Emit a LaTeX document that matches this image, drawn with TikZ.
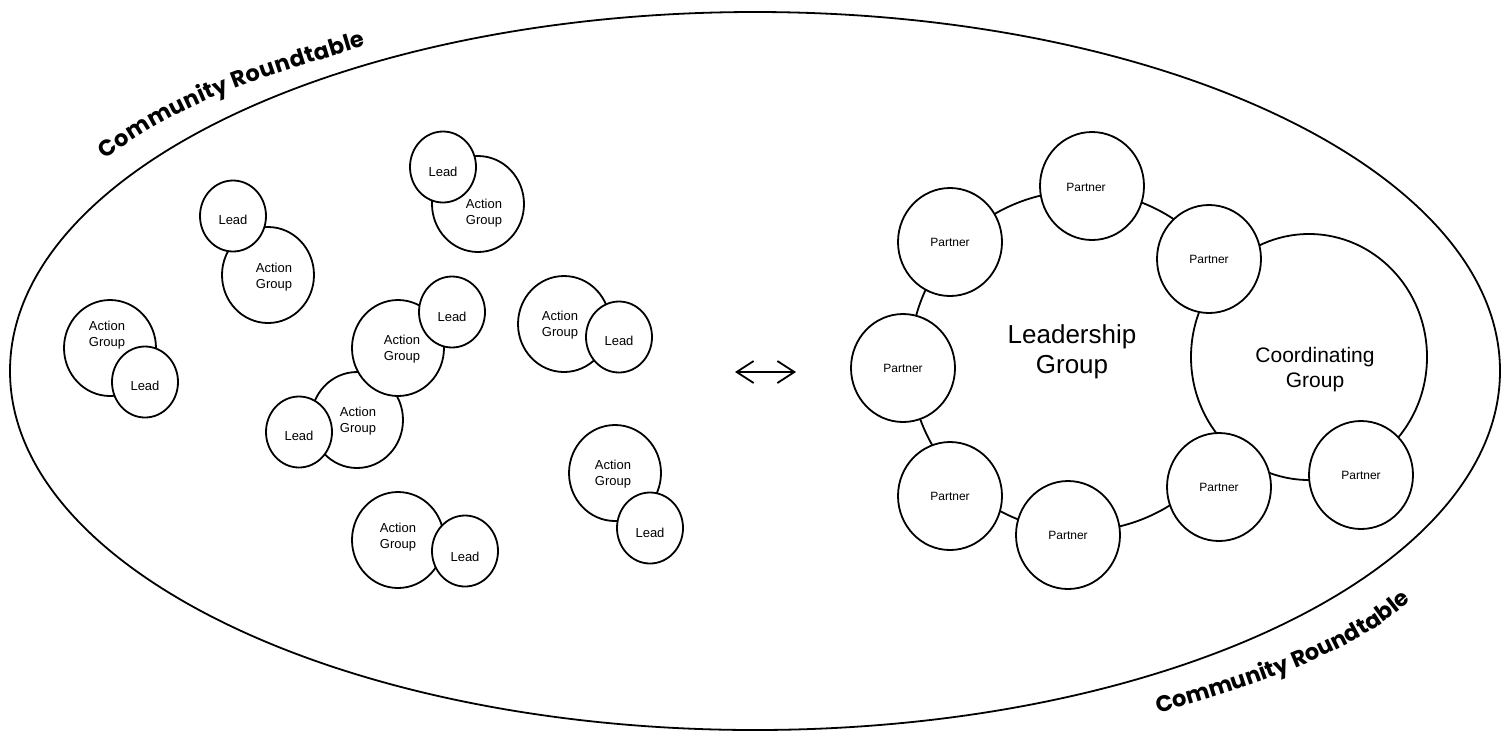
\documentclass[tikz,border=0pt]{standalone}
\usepackage{fontspec}
\setmainfont{Liberation Sans}
\newfontfamily\crfont{Poppins}
\usetikzlibrary{shapes.geometric,decorations.text,arrows.meta}
\tikzset{
  bub/.style={ellipse, draw, fill=white, line width=1.8pt, inner sep=0pt},
  agbub/.style={bub, minimum width=92pt, minimum height=96pt},
  leadbub/.style={bub, minimum width=66pt, minimum height=71pt},
  partner/.style={bub, minimum width=104pt, minimum height=108pt, font=\fontsize{12}{14}\selectfont},
  smalltxt/.style={font=\fontsize{13}{15.5}\selectfont, align=center, inner sep=0pt},
  crtext/.style={decorate, decoration={text along path, text align={fit to path},
     text={|\crfont\bfseries\fontsize{22.5}{26}\selectfont|Community Roundtable}}}
}
\begin{document}
\begin{tikzpicture}[x=1pt,y=-1pt]
\useasboundingbox (0,0) rectangle (1507,732);
% outer ellipse
\node[ellipse, draw, line width=1.8pt, minimum width=1490pt, minimum height=718pt, inner sep=0pt] (round) at (755,371) {};
% curved titles
\coordinate (t1s) at (106,160);
\coordinate (t1e) at (366,46);
\coordinate (t2s) at (1158,713);
\coordinate (t2e) at (1408,603);
\path[crtext] (t1s) .. controls (175,102) and (280,72) .. (t1e);
\path[crtext] (t2s) .. controls (1235,692) and (1348,657) .. (t2e);

% pair 1
\node[agbub] (ag1) at (110,348) {};
\node[leadbub] (ld1) at (145,382) {};
\node[smalltxt] (ag1t) at (107,335) {Action\\Group};
\node[smalltxt] (ld1t) at (145,386) {Lead};
% pair 2
\node[agbub] (ag2) at (268,275) {};
\node[leadbub] (ld2) at (233,216) {};
\node[smalltxt] (ag2t) at (274,277) {Action\\Group};
\node[smalltxt] (ld2t) at (233,220) {Lead};
% pair 3
\node[agbub] (ag3) at (478,204) {};
\node[leadbub] (ld3) at (443,167) {};
\node[smalltxt] (ag3t) at (484,213) {Action\\Group};
\node[smalltxt] (ld3t) at (443,172) {Lead};
% cluster 4
\node[agbub] (ag4b) at (357,420) {};
\node[leadbub] (ld4b) at (299,432) {};
\node[agbub] (ag4a) at (398,348) {};
\node[leadbub] (ld4a) at (452,312) {};
\node[smalltxt] (ag4bt) at (358,421) {Action\\Group};
\node[smalltxt] (ld4bt) at (299,436) {Lead};
\node[smalltxt] (ag4at) at (402,349) {Action\\Group};
\node[smalltxt] (ld4at) at (452,317) {Lead};
% pair 5
\node[agbub] (ag5) at (564,324) {};
\node[leadbub] (ld5) at (619,337) {};
\node[smalltxt] (ag5t) at (560,325) {Action\\Group};
\node[smalltxt] (ld5t) at (619,341) {Lead};
% pair 6
\node[agbub] (ag6) at (398,540) {};
\node[leadbub] (ld6) at (465,551) {};
\node[smalltxt] (ag6t) at (398,537) {Action\\Group};
\node[smalltxt] (ld6t) at (465,557) {Lead};
% pair 7
\node[agbub] (ag7) at (615,473) {};
\node[leadbub] (ld7) at (650,528) {};
\node[smalltxt] (ag7t) at (613,474) {Action\\Group};
\node[smalltxt] (ld7t) at (650,533) {Lead};

% arrow
\coordinate (arrL) at (735,372);
\coordinate (arrR) at (796,372);
\draw[line width=1.8pt, {Straight Barb[length=17pt,width=22pt]}-{Straight Barb[length=17pt,width=22pt]}] (arrL) -- (arrR);

% leadership
\node[bub, minimum width=340pt, minimum height=340pt] (lead) at (1080,361) {};
\node[font=\fontsize{26}{30}\selectfont, align=center, inner sep=0pt] (leadt) at (1072,352) {Leadership\\Group};
\node[bub, minimum width=236pt, minimum height=246pt] (coord) at (1309,357) {};
\node[font=\fontsize{21}{25}\selectfont, align=center, inner sep=0pt] (coordt) at (1315,370) {Coordinating\\Group};

% partners
\node[partner] (p1) at (1092,186) {};
\node[font=\fontsize{12}{14}\selectfont, inner sep=0pt] (p1t) at (1086,187) {Partner};
\node[partner] (p2) at (950,242) {Partner};
\node[partner] (p3) at (1209,259) {Partner};
\node[partner] (p4) at (903,368) {Partner};
\node[partner] (p5) at (950,496) {Partner};
\node[partner] (p6) at (1068,535) {Partner};
\node[partner] (p7) at (1219,487) {Partner};
\node[partner] (p8) at (1361,475) {Partner};
\end{tikzpicture}
\end{document}
